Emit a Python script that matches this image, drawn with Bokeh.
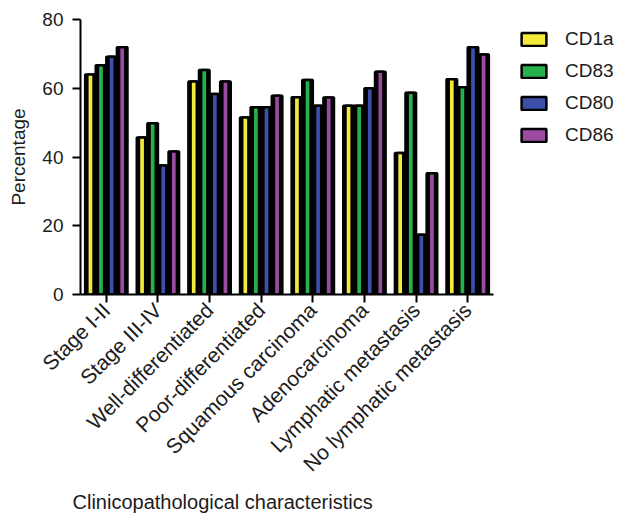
import math
from bokeh.plotting import figure
from bokeh.models import (ColumnDataSource, Range1d, Legend, LegendItem,
                          FixedTicker, Title)
from bokeh.transform import dodge
from bokeh.embed import file_html
from bokeh.resources import INLINE

categories = ["Stage I-II", "Stage III-IV", "Well-differentiated",
              "Poor-differentiated", "Squamous carcinoma", "Adenocarcinoma",
              "Lymphatic metastasis", "No lymphatic metastasis"]
series_names = ["CD1a", "CD83", "CD80", "CD86"]
cd1a = [64.0, 45.7, 62.0, 51.5, 57.4, 54.9, 41.2, 62.6]
cd83 = [66.7, 49.8, 65.3, 54.5, 62.4, 54.9, 58.7, 60.3]
cd80 = [69.2, 37.5, 58.3, 54.5, 54.9, 60.0, 17.4, 71.9]
cd86 = [71.9, 41.6, 62.0, 57.8, 57.3, 64.8, 35.3, 69.8]
y_ticks = [0, 20, 40, 60, 80]

colors = ["#F3E93A", "#25B14B", "#3C50AA", "#9B4CA2"]
FONT = "Liberation Sans"
TXT = "#1c1c1c"

idx = list(range(len(categories)))
source = ColumnDataSource(dict(idx=idx, CD1a=cd1a, CD83=cd83, CD80=cd80, CD86=cd86))

p = figure(frame_width=413, frame_height=275,
           x_range=Range1d(-0.5, len(categories) - 0.5), y_range=Range1d(0, 80),
           output_backend="svg", toolbar_location=None,
           min_border_left=80, min_border_top=19, min_border_right=127,
           min_border_bottom=200)

slot = 0.205
renderers = []
for i, (name, col) in enumerate(zip(series_names, colors)):
    off = (i - 1.5) * slot
    p.vbar(x=dodge("idx", off, range=p.x_range), top=name, bottom=0, width=slot,
           fill_color="black", line_color="black", line_width=2.5, source=source)
    r = p.vbar(x=dodge("idx", off, range=p.x_range), top=name, bottom=0, width=0.12,
               fill_color=col, line_color="black", line_width=2.5, source=source)
    renderers.append(r)

p.xgrid.visible = False
p.ygrid.visible = False
p.outline_line_color = None
p.background_fill_color = None
p.border_fill_color = "white"

for ax in (p.xaxis[0], p.yaxis[0]):
    ax.axis_line_color = "black"
    ax.axis_line_width = 2
    ax.major_tick_line_color = "black"
    ax.major_tick_line_width = 2
    ax.major_tick_in = 0
    ax.major_tick_out = 8
    ax.minor_tick_line_color = None
    ax.major_label_text_font = FONT
    ax.major_label_text_color = TXT

p.yaxis.ticker = FixedTicker(ticks=y_ticks)
p.yaxis.major_label_text_font_size = "19px"
p.yaxis.major_label_standoff = 9
p.yaxis.axis_label = "Percentage"
p.yaxis.axis_label_text_font = FONT
p.yaxis.axis_label_text_font_size = "19px"
p.yaxis.axis_label_text_font_style = "normal"
p.yaxis.axis_label_text_color = TXT
p.yaxis.axis_label_standoff = 10

p.xaxis.ticker = FixedTicker(ticks=idx)
p.xaxis.major_label_overrides = {i: c for i, c in enumerate(categories)}
p.xaxis.major_label_orientation = math.pi / 4
p.xaxis.major_label_text_font_size = "21px"
p.xaxis.major_label_standoff = 4

t = Title(text="Clinicopathological characteristics", align="left", offset=-8,
          text_font=FONT, text_font_size="20px", text_font_style="normal",
          text_color=TXT, standoff=4)
p.add_layout(t, "below")

legend = Legend(items=[LegendItem(label=n, renderers=[r]) for n, r in zip(series_names, renderers)],
                location=(25, 148), glyph_width=31, glyph_height=16,
                label_text_font=FONT, label_text_font_size="19px", label_text_color=TXT,
                label_standoff=16, spacing=10, padding=0, margin=0,
                border_line_color=None, background_fill_alpha=0)
p.add_layout(legend, "right")

open("out.html", "w").write(file_html(p, INLINE))
